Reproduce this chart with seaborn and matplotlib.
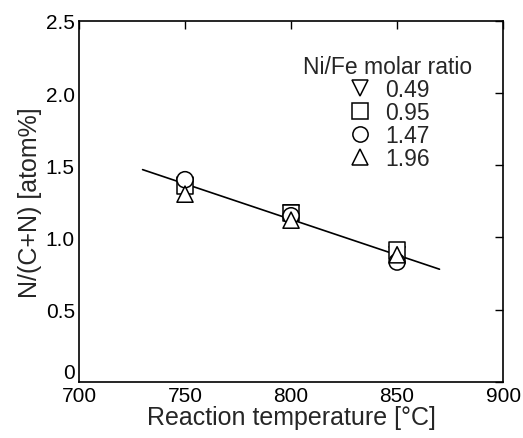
import pandas as pd
import matplotlib
matplotlib.use("Agg")
import matplotlib.pyplot as plt
import seaborn as sns

temps = [750, 800, 850]
ratios = ["0.49", "0.95", "1.47", "1.96"]
n_049 = [1.35, 1.17, 0.88]
n_095 = [1.36, 1.17, 0.91]
n_147 = [1.40, 1.15, 0.83]
n_196 = [1.30, 1.12, 0.88]
fit_x = [730, 870]
fit_y = [1.47, 0.78]
markers = ["v", "s", "o", "^"]

rows = []
for r, vals in zip(ratios, [n_049, n_095, n_147, n_196]):
    for t, v in zip(temps, vals):
        rows.append({"temp": t, "n": v, "ratio": r})
df = pd.DataFrame(rows)

sns.set_style("white")
plt.rcParams["font.family"] = ["Liberation Sans", "DejaVu Sans"]

fig = plt.figure(figsize=(5.23, 4.39), dpi=100)
ax = fig.add_axes([0.151, 0.128, 0.811, 0.822])

sns.lineplot(x=fit_x, y=fit_y, color="black", linewidth=1.2, ax=ax)
sns.scatterplot(data=df, x="temp", y="n", style="ratio", markers=markers,
                style_order=ratios, s=135, facecolor="white",
                edgecolor="black", linewidth=1.1, ax=ax, zorder=3)

ax.set_xlim(700, 900)
ax.set_ylim(0, 2.5)
ax.set_xticks([700, 750, 800, 850, 900])
ax.set_yticks([0, 0.5, 1.0, 1.5, 2.0, 2.5])
ax.set_yticklabels(["0", "0.5", "1.0", "1.5", "2.0", "2.5"])
ax.tick_params(direction="in", length=6, width=1, labelsize=15, colors="black",
               pad=3, top=True, right=True)
# "0" sits just above the x-axis like in the original
ax.get_yticklabels()[0].set_va("bottom")
for s in ax.spines.values():
    s.set_color("black")
    s.set_linewidth(1.2)
ax.set_xlabel("Reaction temperature [°C]", fontsize=18, labelpad=0)
ax.set_ylabel("N/(C+N) [atom%]", fontsize=18, labelpad=3)

leg = ax.legend(title="Ni/Fe molar ratio", loc="upper right", frameon=False,
                fontsize=16.5, title_fontsize=16.5, handlelength=1.2,
                handletextpad=0.5, labelspacing=0.0, borderpad=0,
                bbox_to_anchor=(0.954, 0.938))
for h in leg.legend_handles:
    h.set_markerfacecolor("white")
    h.set_markeredgecolor("black")
    h.set_markersize(11)
    h.set_markeredgewidth(1.1)

fig.savefig("out.png", dpi=100)
